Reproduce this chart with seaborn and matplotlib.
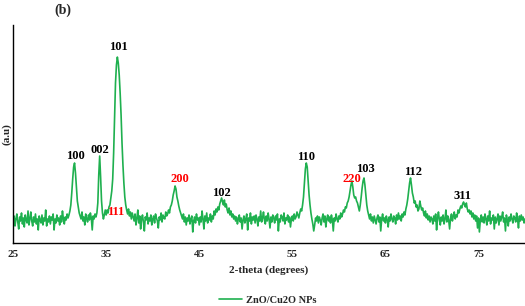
import numpy as np
import pandas as pd
import matplotlib
matplotlib.use("Agg")
import matplotlib.pyplot as plt
import seaborn as sns

# XRD intensity (a.u.), read every 0.1 degree from 25.0 to 80.0 (2-theta)
intensity = [
    20, 27, 17, 24, 29, 21, 14, 26, 22, 30,   # 25
    19, 25, 16, 28, 23, 20, 32, 18, 24, 31,   # 26
    22, 17, 26, 21, 29, 19, 24, 13, 27, 23,   # 27
    20, 28, 18, 25, 22, 33, 17, 24, 21, 27,   # 28
    19, 26, 23, 29, 13, 24, 20, 28, 22, 25,   # 29
    18, 27, 21, 32, 24, 19, 26, 23, 29, 25,   # 30
    28, 32, 38, 50, 64, 76, 80, 70, 56, 42,   # 31
    36, 30, 27, 24, 31, 22, 26, 18, 29, 24,   # 32
    21, 28, 23, 30, 25, 13, 27, 24, 29, 26,   # 33
    30, 40, 68, 87, 66, 42, 30, 24, 28, 33,   # 34
    28, 33, 30, 36, 38, 45, 52, 64, 90, 125,  # 35
    160, 178, 186, 180, 168, 150, 128, 100, 78, 60,  # 36
    46, 38, 33, 29, 34, 27, 31, 24, 30, 26,   # 37
    22, 29, 18, 25, 33, 20, 27, 14, 24, 28,   # 38
    21, 12, 26, 23, 30, 19, 25, 22, 28, 18,   # 39
    24, 27, 20, 29, 25, 22, 15, 26, 23, 30,   # 40
    21, 28, 25, 24, 31, 27, 29, 33, 30, 36,   # 41
    38, 42, 48, 52, 57, 54, 46, 42, 37, 33,   # 42
    30, 27, 24, 29, 21, 26, 18, 25, 22, 28,   # 43
    19, 24, 27, 11, 22, 26, 20, 29, 23, 25,   # 44
    18, 26, 21, 32, 24, 14, 27, 22, 30, 20,   # 45
    25, 23, 29, 21, 27, 24, 32, 28, 34, 31,   # 46
    36, 33, 39, 42, 45, 41, 38, 43, 36, 39,   # 47
    33, 30, 35, 28, 32, 26, 29, 24, 27, 22,   # 48
    26, 19, 24, 28, 21, 25, 14, 23, 27, 20,   # 49
    24, 29, 13, 25, 22, 30, 19, 26, 23, 27,   # 50
    20, 28, 24, 17, 26, 22, 32, 21, 25, 31,   # 51
    23, 19, 27, 22, 30, 24, 15, 26, 21, 28,   # 52
    25, 20, 27, 23, 29, 12, 24, 21, 28, 26,   # 53
    22, 30, 19, 25, 23, 28, 21, 26, 16, 24,   # 54
    27, 22, 29, 24, 26, 31, 28, 25, 30, 34,   # 55
    32, 38, 46, 60, 74, 80, 76, 62, 48, 38,   # 56
    30, 24, 19, 12, 18, 25, 22, 27, 20, 26,   # 57
    23, 18, 25, 29, 21, 27, 16, 24, 28, 22,   # 58
    26, 20, 28, 23, 12, 25, 22, 29, 24, 21,   # 59
    27, 24, 30, 26, 29, 33, 31, 36, 35, 40,   # 60
    42, 46, 52, 58, 62, 56, 48, 45, 46, 42,   # 61
    40, 36, 32, 38, 46, 55, 62, 65, 58, 48,   # 62
    38, 32, 28, 24, 29, 22, 26, 20, 27, 23,   # 63
    19, 25, 28, 21, 26, 12, 24, 29, 22, 25,   # 64
    20, 27, 23, 16, 26, 22, 29, 24, 21, 27,   # 65
    25, 19, 28, 23, 30, 24, 27, 22, 29, 26,   # 66
    31, 28, 34, 38, 44, 52, 60, 65, 58, 50,   # 67
    46, 40, 42, 36, 38, 32, 34, 42, 37, 33,   # 68
    35, 30, 27, 32, 25, 29, 23, 27, 21, 26,   # 69
    24, 19, 27, 22, 29, 13, 25, 31, 23, 18,   # 70
    26, 22, 28, 19, 24, 33, 21, 27, 23, 14,   # 71
    25, 29, 22, 27, 31, 24, 28, 26, 33, 30,   # 72
    34, 37, 35, 39, 41, 38, 36, 40, 34, 31,   # 73
    33, 29, 32, 26, 30, 24, 28, 22, 27, 15,   # 74
    25, 11, 23, 28, 21, 26, 20, 29, 24, 18,   # 75
    27, 22, 32, 19, 25, 23, 28, 14, 26, 20,   # 76
    24, 29, 18, 27, 22, 26, 31, 21, 25, 12,   # 77
    28, 23, 17, 26, 22, 29, 24, 20, 27, 25,   # 78
    21, 30, 24, 15, 27, 22, 28, 23, 26, 20,   # 79
    24,                                       # 80
]
two_theta = np.linspace(25, 80, len(intensity))

peak_labels = ["100", "002", "101", "111", "200", "102", "110", "220", "103", "112", "311"]
label_x = [31.7, 34.3, 36.3, 36.0, 42.9, 47.4, 56.5, 61.4, 62.8, 68.0, 73.3]
label_y = [87, 93, 196, 31, 64, 50, 86, 64, 74, 71, 47]
label_red = [False, False, False, True, True, False, False, True, False, False, False]

df = pd.DataFrame({"two_theta": two_theta, "intensity": intensity})

sns.set_style("white")
plt.rcParams["font.family"] = ["Liberation Serif", "DejaVu Serif"]

fig = plt.figure(figsize=(5.25, 3.06), dpi=100)
ax = fig.add_axes([0.025, 0.206, 0.975, 0.712])

sns.lineplot(data=df, x="two_theta", y="intensity", ax=ax, color="#1fb04f",
             linewidth=1.2, label="ZnO/Cu2O NPs")

for txt, x, y, red in zip(peak_labels, label_x, label_y, label_red):
    ax.text(x, y, txt, ha="center", va="center", fontsize=9, fontweight="bold",
            color="#ff0000" if red else "black")

ax.set_xlim(25, 80)
ax.set_ylim(0, 218)
ax.set_xticks([25, 35, 45, 55, 65, 75])
ax.set_yticks([])
ax.tick_params(axis="x", length=0, pad=5, labelsize=8)
for lbl in ax.get_xticklabels():
    lbl.set_fontweight("bold")
ax.set_xlabel("2-theta (degrees)", fontsize=8, fontweight="bold", labelpad=5)
ax.set_ylabel("(a.u)", fontsize=8, fontweight="bold", labelpad=1)
sns.despine(ax=ax, top=True, right=True)
for side in ["left", "bottom"]:
    ax.spines[side].set_color("black")
    ax.spines[side].set_linewidth(1.0)

ax.text(0.12, 0.99, "(b)", transform=fig.transFigure, ha="center", va="top",
        fontsize=10, fontweight="bold")

ax.legend(loc="center", bbox_to_anchor=(0.51, 0.02), bbox_transform=fig.transFigure,
          frameon=False, handlelength=2.2, handletextpad=0.4,
          prop={"size": 7.5, "weight": "bold"})

fig.savefig("out.png", dpi=100)
